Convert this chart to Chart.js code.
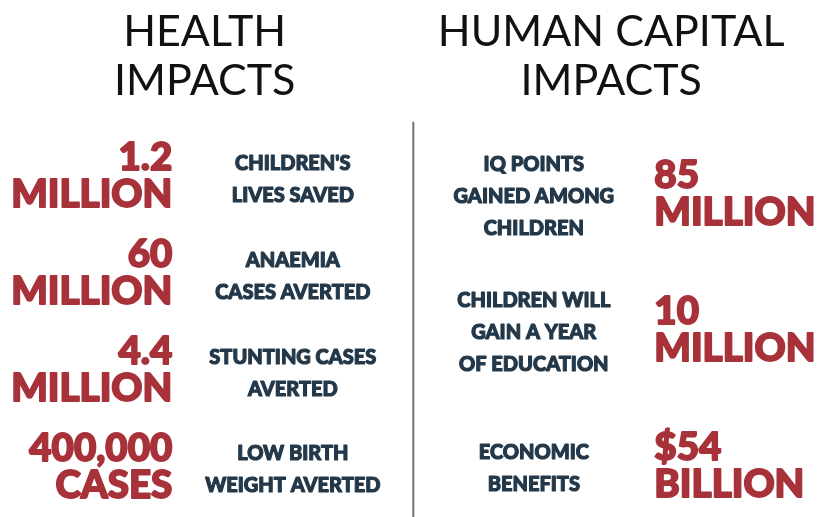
<!DOCTYPE html>
<html>
<head>
<meta charset="utf-8">
<script src="https://cdn.jsdelivr.net/npm/chart.js@4/dist/chart.umd.min.js"></script>
<style>
  html, body { margin: 0; padding: 0; background: #fff; }
  #wrap { width: 817px; height: 517px; }
</style>
</head>
<body>
<div id="wrap"><canvas id="impactChart" width="817" height="517"></canvas></div>
<script>
const sectionTitles = [['HEALTH', 'IMPACTS'], ['HUMAN CAPITAL', 'IMPACTS']];

const healthOutcomes = [
    ["CHILDREN'S", 'LIVES SAVED'],
    ['ANAEMIA', 'CASES AVERTED'],
    ['STUNTING CASES', 'AVERTED'],
    ['LOW BIRTH', 'WEIGHT AVERTED']
];
const healthFigures = [
    ['1.2', 'MILLION'],
    ['60', 'MILLION'],
    ['4.4', 'MILLION'],
    ['400,000', 'CASES']
];

const humanOutcomes = [
    ['IQ POINTS', 'GAINED AMONG', 'CHILDREN'],
    ['CHILDREN WILL', 'GAIN A YEAR', 'OF EDUCATION'],
    ['ECONOMIC', 'BENEFITS']
];
const humanFigures = [
    ['85', 'MILLION'],
    ['10', 'MILLION'],
    ['$54', 'BILLION']
];

const RED = '#a8323a';
const NAVY = '#233849';
const heavy = '"Lato", "Open Sans", sans-serif';

// columns on the x scale: 1 health figure, 2 health outcome, 3 divider, 4 human outcome, 5 human figure
const textPlugin = {
    id: 'infographicText',
    afterDatasetsDraw(chart) {
        const ctx = chart.ctx;
        const x = chart.scales.x;
        const area = chart.chartArea;
        const divX = x.getPixelForValue(3);

        ctx.save();

        // titles
        ctx.fillStyle = '#111';
        ctx.font = '400 43px "Lato", sans-serif';
        ctx.textAlign = 'center';
        ctx.textBaseline = 'alphabetic';
        const centres = [(area.left + divX) / 2 - 2, (divX + area.right) / 2 - 4];
        sectionTitles.forEach((lines, i) => {
            lines.forEach((t, j) => ctx.fillText(t, centres[i], 46 + j * 49));
        });

        // divider
        ctx.strokeStyle = '#6b7480';
        ctx.lineWidth = 2;
        ctx.beginPath();
        ctx.moveTo(divX, chart.scales.yHealth.getPixelForValue(-0.57));
        ctx.lineTo(divX, area.bottom);
        ctx.stroke();

        const drawBlock = (lines, px, cy, size, gap, capH, color, align, weight) => {
            ctx.font = '900 ' + size + 'px ' + heavy;
            ctx.fillStyle = color;
            ctx.strokeStyle = color;
            ctx.lineWidth = weight;
            ctx.lineJoin = 'round';
            ctx.textAlign = align;
            const top = cy - ((lines.length - 1) * gap + capH) / 2 + capH;
            lines.forEach((t, j) => {
                ctx.fillText(t, px, top + j * gap);
                ctx.strokeText(t, px, top + j * gap);
            });
        };

        chart.data.datasets.forEach((ds, di) => {
            const meta = chart.getDatasetMeta(di);
            const outcomes = di === 0 ? healthOutcomes : humanOutcomes;
            const figures = di === 0 ? healthFigures : humanFigures;
            const figX = x.getPixelForValue(di === 0 ? 1 : 5);
            meta.data.forEach((pt, i) => {
                drawBlock(outcomes[i], pt.x, pt.y + 1.5, 20, 32, 15, NAVY, 'center', 1.1);
                drawBlock(figures[i], figX, pt.y - 2, 38.5, 37, 28, RED, di === 0 ? 'right' : 'left', 1.8);
            });
        });

        ctx.restore();
    }
};

new Chart(document.getElementById('impactChart'), {
    type: 'scatter',
    data: {
        datasets: [
            {
                label: 'Health impacts',
                data: healthOutcomes.map((_, i) => ({ x: 2, y: i })),
                yAxisID: 'yHealth',
                pointRadius: 0
            },
            {
                label: 'Human capital impacts',
                data: humanOutcomes.map((_, i) => ({ x: 4, y: i })),
                yAxisID: 'yHuman',
                pointRadius: 0
            }
        ]
    },
    options: {
        responsive: false,
        animation: false,
        layout: { padding: 0 },
        plugins: { legend: { display: false }, tooltip: { enabled: false } },
        scales: {
            x: { type: 'linear', display: false, min: -0.43, max: 6.35 },
            yHealth: { type: 'linear', display: false, reverse: true, min: -1.8285, max: 3.5124 },
            yHuman: { type: 'linear', display: false, reverse: true, min: -1.4265, max: 2.375 }
        }
    },
    plugins: [textPlugin]
});
</script>
</body>
</html>
